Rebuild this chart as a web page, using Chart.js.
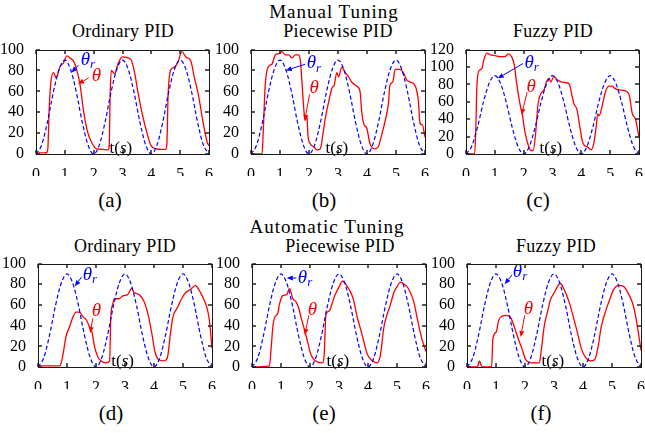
<!DOCTYPE html>
<html>
<head>
<meta charset="utf-8">
<script src="https://cdn.jsdelivr.net/npm/chart.js@4/dist/chart.umd.min.js"></script>
<style>
  body { margin: 0; background: #fff; }
  #page { position: relative; width: 645px; height: 433px; overflow: hidden; font-family: "Liberation Serif", "Times New Roman", serif; color: #000; }
  canvas { position: absolute; }
  .frame { position: absolute; border: 1px solid #1a1a1a; box-sizing: border-box; pointer-events: none; }
  .lbl { position: absolute; transform: translateX(-50%); white-space: nowrap; line-height: 1; }
  .head { font-size: 19px; letter-spacing: 1px; }
  .sub { font-size: 18px; letter-spacing: 0.3px; }
  .cap { font-size: 21px; }
</style>
</head>
<body>
<div id="page">
  <div class="lbl head" style="left:334px; top:2px;">Manual Tuning</div>
  <div class="lbl sub" style="left:123px; top:22px;">Ordinary PID</div>
  <div class="lbl sub" style="left:338px; top:22px;">Piecewise PID</div>
  <div class="lbl sub" style="left:553px; top:22px;">Fuzzy PID</div>
  <div class="lbl cap" style="left:110px; top:190px;">(a)</div>
  <div class="lbl cap" style="left:324px; top:190px;">(b)</div>
  <div class="lbl cap" style="left:538px; top:190px;">(c)</div>

  <div class="lbl head" style="left:327px; top:217px;">Automatic Tuning</div>
  <div class="lbl sub" style="left:125px; top:237px;">Ordinary PID</div>
  <div class="lbl sub" style="left:340px; top:237px;">Piecewise PID</div>
  <div class="lbl sub" style="left:556px; top:237px;">Fuzzy PID</div>
  <div class="lbl cap" style="left:111px; top:403px;">(d)</div>
  <div class="lbl cap" style="left:324px; top:403px;">(e)</div>
  <div class="lbl cap" style="left:541px; top:403px;">(f)</div>

  <canvas id="pa"></canvas>
  <canvas id="pb"></canvas>
  <canvas id="pc"></canvas>
  <canvas id="pd"></canvas>
  <canvas id="pe"></canvas>
  <canvas id="pf"></canvas>
</div>
<script>
// reference angle theta_r (same in every panel)
const refT = [0,0.2,0.4,0.6,0.8,1,1.2,1.4,1.6,1.8,2,2.2,2.4,2.6,2.8,3,3.2,3.4,3.6,3.8,4,4.2,4.4,4.6,4.8,5,5.2,5.4,5.6,5.8,6];
const refDeg = [0,9,31,59,81,90,81,59,31,9,0,9,31,59,81,90,81,59,31,9,0,9,31,59,81,90,81,59,31,9,0];

// measured angle theta, manual tuning
const tA = [0,0.3,0.38,0.41,0.46,0.52,0.61,0.70,0.84,0.95,1.07,1.18,1.30,1.39,1.53,1.64,1.78,1.93,2.10,2.30,2.50,2.54,2.57,2.61,2.73,2.84,2.99,3.19,3.30,3.42,3.53,3.65,3.82,3.99,4.16,4.35,4.50,4.54,4.58,4.68,4.79,4.91,5.06,5.20,5.37,5.48,5.65,5.79,5.94,6.0];
const degA = [1,1,1.5,5,45,70,78,73,84,87,94,92,89,83,66,43,22,11,5,4.5,4,8,55,80,77,86,93,92,90,78,60,43,23,8,5,4.5,4.5,10,55,81,83,87,98,93,89,75,54,31,11,8];

const tB = [0,0.38,0.42,0.49,0.61,0.72,0.84,0.95,1.07,1.18,1.30,1.41,1.53,1.64,1.70,1.75,1.83,1.87,1.93,1.96,2.04,2.16,2.27,2.39,2.48,2.56,2.67,2.79,2.87,2.96,3.02,3.13,3.25,3.36,3.47,3.65,3.76,3.82,3.90,3.99,4.10,4.28,4.39,4.51,4.62,4.74,4.79,4.89,4.97,5.14,5.25,5.37,5.48,5.65,5.77,5.83,5.91,6.0];
const degB = [0,0,20,66,84,86,95,96,98,95,95,92,95,95,90,72,40,32,37,19,10,7,4,5,19,34,49,63,66,78,74,83,78,74,69,65,60,40,28,25,10,5,7,19,31,49,66,69,81,81,78,71,69,66,51,29,28,16];

const tC = [0,0.30,0.34,0.38,0.46,0.55,0.61,0.72,0.84,1.01,1.18,1.35,1.47,1.58,1.67,1.75,1.87,1.96,2.04,2.16,2.25,2.33,2.41,2.50,2.59,2.71,2.79,2.87,2.94,3.05,3.17,3.30,3.47,3.59,3.65,3.74,3.85,3.94,4.05,4.22,4.34,4.43,4.51,4.57,4.62,4.74,4.85,4.97,5.08,5.14,5.25,5.48,5.65,5.77,5.88,6.0];
const degC = [0,0,30,80,96,98,107,116,114,113,112,112,115,112,103,83,58,44,26,10,4,4,22,58,69,74,83,87,83,89,85,83,82,80,71,58,51,33,13,8,5,12,30,46,44,58,73,78,78,76,74,73,69,46,40,19];

// measured angle theta, automatic tuning
const tD = [0,0.75,0.80,0.86,0.97,1.09,1.20,1.31,1.43,1.54,1.68,1.77,1.86,1.94,2.06,2.17,2.34,2.47,2.51,2.57,2.63,2.80,2.94,3.09,3.23,3.31,3.49,3.66,3.81,3.94,4.03,4.17,4.34,4.46,4.57,4.65,4.80,4.95,5.09,5.26,5.43,5.54,5.71,5.83,5.91,6.0];
const degD = [1,1,4,12,30,39,48,53,53,49,45,39,34,21,10,6,4,6,48,60,66,66,69,70,76,72,70,63,49,30,15,7,6,9,33,48,57,66,72,75,79,75,66,57,45,18];

const tE = [0,0.60,0.66,0.72,0.78,0.89,0.95,1.06,1.20,1.29,1.41,1.52,1.61,1.69,1.81,1.92,2.03,2.18,2.43,2.49,2.55,2.66,2.78,2.87,3.01,3.12,3.26,3.35,3.49,3.63,3.75,3.86,3.98,4.15,4.32,4.43,4.55,4.66,4.78,4.89,5.01,5.12,5.29,5.41,5.58,5.69,5.86,6.0];
const degE = [0,1,18,39,48,52,61,69,70,76,66,63,57,48,36,24,12,6,4,12,51,54,63,70,78,83,79,75,66,48,36,24,12,6,4,12,39,51,61,72,78,82,79,75,63,48,27,15];

const tF = [0,0.33,0.38,0.43,0.49,0.55,0.85,0.89,1.01,1.09,1.20,1.35,1.50,1.63,1.77,1.89,2.03,2.21,2.49,2.57,2.66,2.78,2.89,3.01,3.12,3.21,3.35,3.52,3.67,3.81,3.94,4.09,4.26,4.40,4.51,4.63,4.78,4.93,5.06,5.23,5.40,5.58,5.73,5.86,6.0];
const degF = [0,0,1.5,6,1.5,0,0,27,34,45,49,50,48,39,27,18,7,4,4,18,39,54,66,72,78,81,75,63,48,33,18,9,6,7,18,39,54,66,75,79,78,70,60,42,16];

const xTicks = [0,1,2,3,4,5,6];

const FONT = '"Liberation Serif", "Times New Roman", serif';

// label anchors are in data units: [t, deg]
const panels = [
  { id: 'pa', t: tA, deg: degA, ymax: 100, box: [36, 42, 210, 154],
    ref: { text: [1.55, 90], tail: [1.47, 85], head: [1.23, 78] },
    out: { text: [1.93, 75], tail: [1.83, 73], head: [1.46, 67] }, tl: [2.55, 5.5] },
  { id: 'pb', t: tB, deg: degB, ymax: 100, box: [251, 42, 426, 154],
    ref: { text: [1.92, 87], tail: [1.87, 86], head: [1.2, 80] },
    out: { text: [2.02, 63], tail: [2.02, 57], head: [1.85, 32] }, tl: [2.57, 5.5] },
  { id: 'pc', t: tC, deg: degC, ymax: 120, box: [466, 42, 640, 154],
    ref: { text: [2.03, 105], tail: [1.98, 104], head: [1.1, 87] },
    out: { text: [2.1, 77], tail: [2.12, 71], head: [1.93, 45] }, tl: [2.55, 6.5] },
  { id: 'pd', t: tD, deg: degD, ymax: 100, box: [38, 256, 213, 367],
    ref: { text: [1.54, 89], tail: [1.5, 87], head: [1.27, 78] },
    out: { text: [1.85, 54], tail: [1.89, 47], head: [1.8, 33] }, tl: [2.53, 5.5] },
  { id: 'pe', t: tE, deg: degE, ymax: 100, box: [252, 256, 427, 367],
    ref: { text: [1.58, 86], tail: [1.53, 86], head: [1.2, 86] },
    out: { text: [1.92, 55], tail: [1.96, 50], head: [1.82, 31] }, tl: [2.57, 5.5] },
  { id: 'pf', t: tF, deg: degF, ymax: 100, box: [467, 256, 642, 367],
    ref: { text: [1.58, 92], tail: [1.55, 89], head: [1.3, 80] },
    out: { text: [1.96, 56], tail: [1.99, 50], head: [1.85, 29] }, tl: [2.57, 5.5] },
];

const arrow = (ctx, x0, y0, x1, y1, color) => {
  const ang = Math.atan2(y1 - y0, x1 - x0);
  const hl = 6, hw = 2.5;
  ctx.strokeStyle = color;
  ctx.fillStyle = color;
  ctx.lineWidth = 1;
  ctx.beginPath();
  ctx.moveTo(x0, y0);
  ctx.lineTo(x1 - hl * Math.cos(ang), y1 - hl * Math.sin(ang));
  ctx.stroke();
  ctx.beginPath();
  ctx.moveTo(x1, y1);
  ctx.lineTo(x1 - hl * Math.cos(ang) + hw * Math.sin(ang), y1 - hl * Math.sin(ang) - hw * Math.cos(ang));
  ctx.lineTo(x1 - hl * Math.cos(ang) - hw * Math.sin(ang), y1 - hl * Math.sin(ang) + hw * Math.cos(ang));
  ctx.closePath();
  ctx.fill();
};

const framePlugin = {
  id: 'frame',
  afterDraw(chart, args, opts) {
    const ctx = chart.ctx;
    const x = chart.scales.x, y = chart.scales.y;
    const px = v => x.getPixelForValue(v);
    const py = v => y.getPixelForValue(v);

    // inward ticks on all four sides
    const l = Math.round(x.left), rr = Math.round(x.right);
    const top = Math.round(y.top), bot = Math.round(y.bottom);
    ctx.save();
    ctx.strokeStyle = '#222222';
    ctx.lineWidth = 1.5;
    ctx.beginPath();
    x.ticks.forEach(tk => {
      const p = Math.round(px(tk.value));
      ctx.moveTo(p, bot); ctx.lineTo(p, bot - 4);
      ctx.moveTo(p, top); ctx.lineTo(p, top + 4);
    });
    y.ticks.forEach(tk => {
      const p = Math.round(py(tk.value));
      ctx.moveTo(l, p); ctx.lineTo(l + 4, p);
      ctx.moveTo(rr, p); ctx.lineTo(rr - 4, p);
    });
    ctx.stroke();
    ctx.restore();

    ctx.save();
    // theta_r label
    const r = opts.ref;
    arrow(ctx, px(r.tail[0]), py(r.tail[1]), px(r.head[0]), py(r.head[1]), '#0000ff');
    ctx.fillStyle = '#0000ff';
    ctx.textBaseline = 'middle';
    ctx.textAlign = 'left';
    ctx.font = 'italic 19px ' + FONT;
    const tx = px(r.text[0]), ty = py(r.text[1]);
    ctx.fillText('θ', tx, ty);
    const w = ctx.measureText('θ').width;
    ctx.font = 'italic 13px ' + FONT;
    ctx.fillText('r', tx + w, ty + 5);

    // theta label
    const o = opts.out;
    arrow(ctx, px(o.tail[0]), py(o.tail[1]), px(o.head[0]), py(o.head[1]), '#ff0000');
    ctx.fillStyle = '#ff0000';
    ctx.font = 'italic 19px ' + FONT;
    ctx.fillText('θ', px(o.text[0]), py(o.text[1]));

    // t(s) label
    ctx.fillStyle = '#000000';
    let lx = px(opts.tl[0]);
    const ly = py(opts.tl[1]);
    [['t(', ''], ['s', 'italic '], [')', '']].forEach(([s, st]) => {
      ctx.font = st + '17px ' + FONT;
      ctx.fillText(s, lx, ly);
      lx += ctx.measureText(s).width;
    });
    ctx.restore();
  }
};

const page = document.getElementById('page');

panels.forEach(p => {
  const [L, T, R, B] = p.box;
  const cv = document.getElementById(p.id);
  const W = R - L + 36 + 6, H = B - T + 6 + 22 + 2;
  const cl = L - 36, ct = T - 6;
  cv.width = W; cv.height = H;
  cv.style.left = cl + 'px';
  cv.style.top = ct + 'px';

  const chart = new Chart(cv, {
    type: 'line',
    data: {
      datasets: [
        {
          label: 'θr',
          data: refT.map((t, i) => ({ x: t, y: refDeg[i] })),
          borderColor: '#0000ff',
          borderWidth: 1.2,
          borderDash: [4, 2.5],
          pointRadius: 0,
          fill: false,
          cubicInterpolationMode: 'monotone',
        },
        {
          label: 'θ',
          data: p.t.map((t, i) => ({ x: t, y: p.deg[i] })),
          borderColor: '#ff0000',
          borderWidth: 1.3,
          pointRadius: 0,
          fill: false,
          cubicInterpolationMode: 'monotone',
        },
      ]
    },
    options: {
      animation: false,
      responsive: false,
      maintainAspectRatio: false,
      events: [],
      layout: { padding: { top: 6, right: 6, bottom: 2, left: 0 } },
      plugins: {
        legend: { display: false },
        tooltip: { enabled: false },
        frame: { ref: p.ref, out: p.out, tl: p.tl },
      },
      scales: {
        x: {
          type: 'linear', min: 0, max: 6,
          afterBuildTicks: s => { s.ticks = xTicks.map(v => ({ value: v })); },
          ticks: { padding: 3, color: '#000', maxRotation: 0, autoSkip: false, font: { family: FONT, size: 16 } },
          grid: { display: false },
          border: { display: false },
          afterFit: s => { s.height = 22; },
        },
        y: {
          min: 0, max: p.ymax,
          ticks: { stepSize: 20, padding: 4, color: '#000', autoSkip: false, font: { family: FONT, size: 16 } },
          grid: { display: false },
          border: { display: false },
          afterFit: s => { s.width = 36; },
        }
      }
    },
    plugins: [framePlugin]
  });

  // plot box as an HTML border laid over the chart area reported by the scales
  const a = chart.chartArea;
  const fr = document.createElement('div');
  fr.className = 'frame';
  fr.style.left = Math.round(cl + a.left) + 'px';
  fr.style.top = Math.round(ct + a.top) + 'px';
  fr.style.width = (Math.round(a.right) - Math.round(a.left) + 1) + 'px';
  fr.style.height = (Math.round(a.bottom) - Math.round(a.top) + 1) + 'px';
  page.appendChild(fr);
});
</script>
</body>
</html>
